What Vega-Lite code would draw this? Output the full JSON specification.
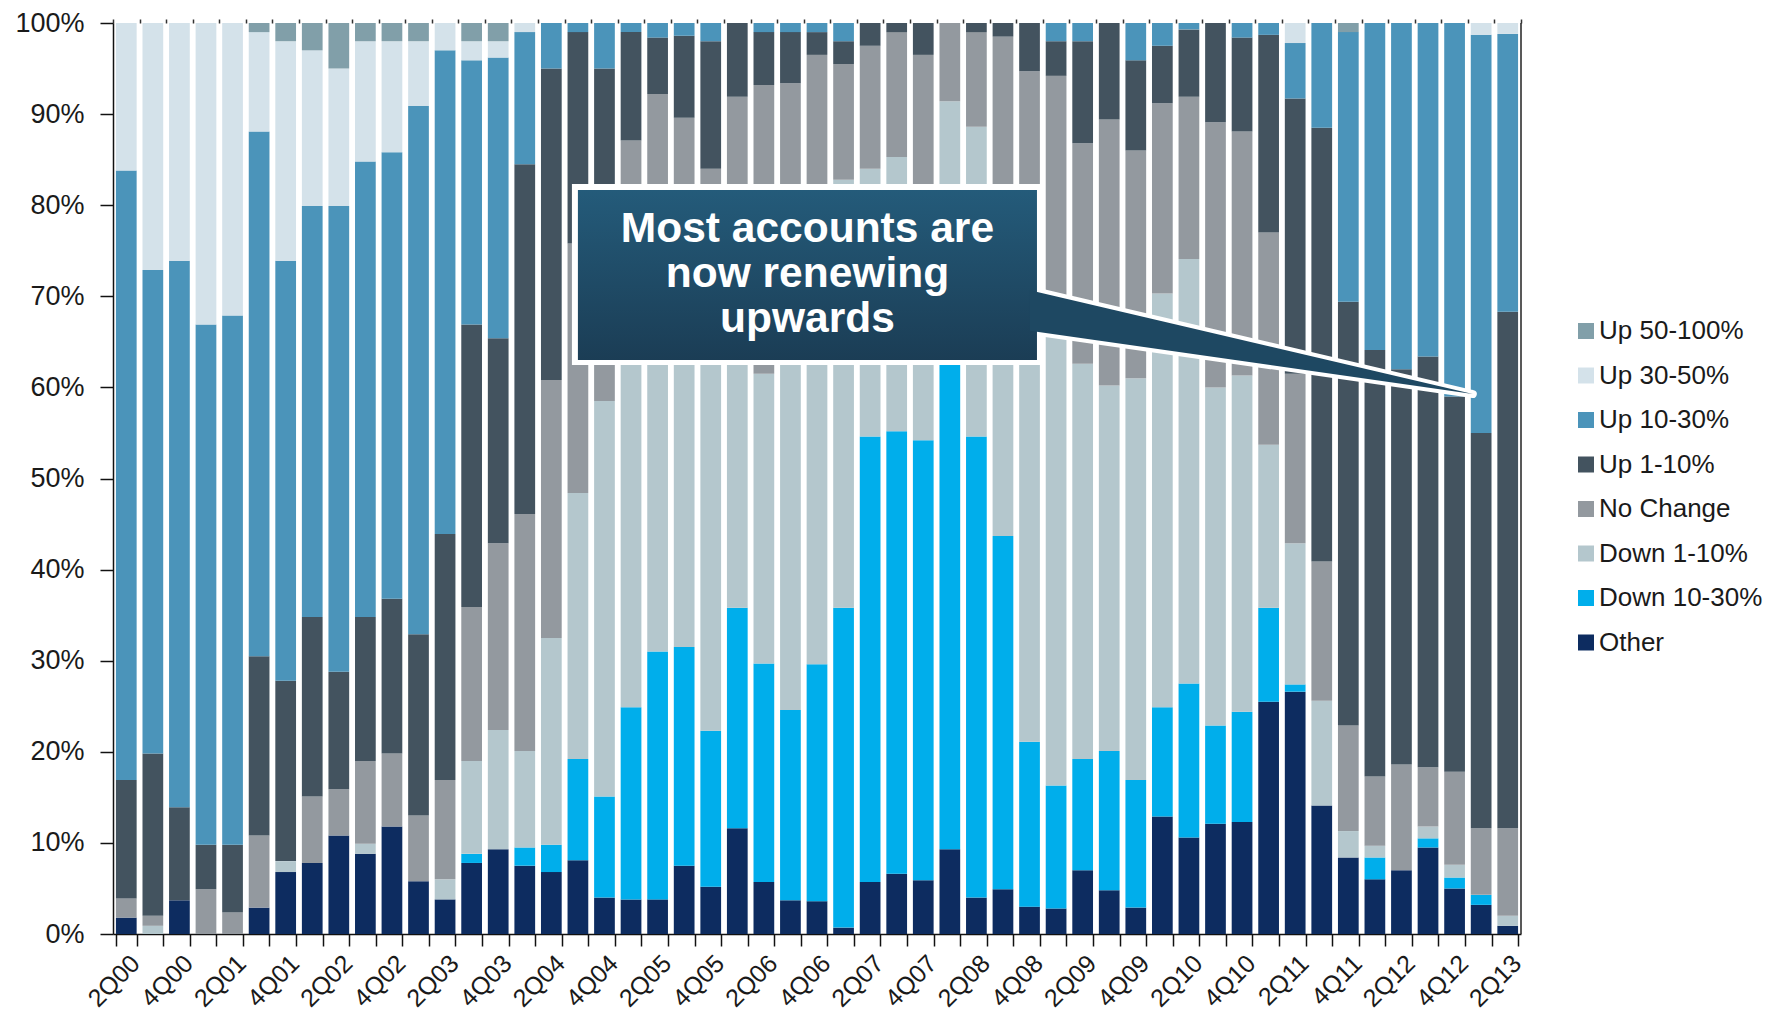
{
  "$schema": "https://vega.github.io/schema/vega-lite/v6.json",
  "width": 1408,
  "height": 911,
  "autosize": {"type": "none"},
  "padding": {"left": 113, "top": 23, "right": 252, "bottom": 86},
  "background": "white",
  "config": {"view": {"stroke": null}, "font": "Liberation Sans"},
  "resolve": {"scale": {"x": "independent"}},
  "layer": [
    {
      "data": {"values": [
        {"q":"2Q00","Other":1.8,"Down 10-30%":0,"Down 1-10%":0,"No Change":2.1,"Up 1-10%":13.0,"Up 10-30%":66.9,"Up 30-50%":16.2,"Up 50-100%":0},
        {"q":"3Q00","Other":0,"Down 10-30%":0,"Down 1-10%":0.9,"No Change":1.1,"Up 1-10%":17.8,"Up 10-30%":53.1,"Up 30-50%":27.1,"Up 50-100%":0},
        {"q":"4Q00","Other":3.7,"Down 10-30%":0,"Down 1-10%":0,"No Change":0,"Up 1-10%":10.2,"Up 10-30%":60.0,"Up 30-50%":26.1,"Up 50-100%":0},
        {"q":"1Q01","Other":0,"Down 10-30%":0,"Down 1-10%":0,"No Change":4.9,"Up 1-10%":4.9,"Up 10-30%":57.1,"Up 30-50%":33.1,"Up 50-100%":0},
        {"q":"2Q01","Other":0,"Down 10-30%":0,"Down 1-10%":0,"No Change":2.4,"Up 1-10%":7.4,"Up 10-30%":58.1,"Up 30-50%":32.1,"Up 50-100%":0},
        {"q":"3Q01","Other":2.9,"Down 10-30%":0,"Down 1-10%":0,"No Change":7.9,"Up 1-10%":19.7,"Up 10-30%":57.6,"Up 30-50%":10.9,"Up 50-100%":1.0},
        {"q":"4Q01","Other":6.8,"Down 10-30%":0,"Down 1-10%":1.2,"No Change":0,"Up 1-10%":19.8,"Up 10-30%":46.1,"Up 30-50%":24.1,"Up 50-100%":2.0},
        {"q":"1Q02","Other":7.8,"Down 10-30%":0,"Down 1-10%":0,"No Change":7.3,"Up 1-10%":19.7,"Up 10-30%":45.1,"Up 30-50%":17.1,"Up 50-100%":3.0},
        {"q":"2Q02","Other":10.8,"Down 10-30%":0,"Down 1-10%":0,"No Change":5.1,"Up 1-10%":12.9,"Up 10-30%":51.1,"Up 30-50%":15.1,"Up 50-100%":5.0},
        {"q":"3Q02","Other":8.8,"Down 10-30%":0,"Down 1-10%":1.1,"No Change":9.1,"Up 1-10%":15.8,"Up 10-30%":50.0,"Up 30-50%":13.2,"Up 50-100%":2.0},
        {"q":"4Q02","Other":11.8,"Down 10-30%":0,"Down 1-10%":0,"No Change":8.0,"Up 1-10%":17.0,"Up 10-30%":49.0,"Up 30-50%":12.2,"Up 50-100%":2.0},
        {"q":"1Q03","Other":5.8,"Down 10-30%":0,"Down 1-10%":0,"No Change":7.2,"Up 1-10%":19.9,"Up 10-30%":58.0,"Up 30-50%":7.1,"Up 50-100%":2.0},
        {"q":"2Q03","Other":3.8,"Down 10-30%":0,"Down 1-10%":2.2,"No Change":10.9,"Up 1-10%":27.0,"Up 10-30%":53.1,"Up 30-50%":3.0,"Up 50-100%":0},
        {"q":"3Q03","Other":7.8,"Down 10-30%":1.0,"Down 1-10%":10.2,"No Change":16.9,"Up 1-10%":31.0,"Up 10-30%":29.0,"Up 30-50%":2.1,"Up 50-100%":2.0},
        {"q":"4Q03","Other":9.3,"Down 10-30%":0,"Down 1-10%":13.1,"No Change":20.5,"Up 1-10%":22.5,"Up 10-30%":30.8,"Up 30-50%":1.8,"Up 50-100%":2.0},
        {"q":"1Q04","Other":7.5,"Down 10-30%":2.0,"Down 1-10%":10.6,"No Change":26.0,"Up 1-10%":38.4,"Up 10-30%":14.5,"Up 30-50%":1.0,"Up 50-100%":0},
        {"q":"2Q04","Other":6.8,"Down 10-30%":3.0,"Down 1-10%":22.7,"No Change":28.3,"Up 1-10%":34.2,"Up 10-30%":5.0,"Up 30-50%":0,"Up 50-100%":0},
        {"q":"3Q04","Other":8.1,"Down 10-30%":11.1,"Down 1-10%":29.2,"No Change":27.4,"Up 1-10%":23.2,"Up 10-30%":1.0,"Up 30-50%":0,"Up 50-100%":0},
        {"q":"4Q04","Other":4.0,"Down 10-30%":11.1,"Down 1-10%":43.4,"No Change":13.5,"Up 1-10%":23.0,"Up 10-30%":5.0,"Up 30-50%":0,"Up 50-100%":0},
        {"q":"1Q05","Other":3.8,"Down 10-30%":21.1,"Down 1-10%":49.1,"No Change":13.1,"Up 1-10%":11.9,"Up 10-30%":1.0,"Up 30-50%":0,"Up 50-100%":0},
        {"q":"2Q05","Other":3.8,"Down 10-30%":27.2,"Down 1-10%":47.0,"No Change":14.2,"Up 1-10%":6.2,"Up 10-30%":1.6,"Up 30-50%":0,"Up 50-100%":0},
        {"q":"3Q05","Other":7.5,"Down 10-30%":24.0,"Down 1-10%":44.5,"No Change":13.6,"Up 1-10%":9.0,"Up 10-30%":1.4,"Up 30-50%":0,"Up 50-100%":0},
        {"q":"4Q05","Other":5.2,"Down 10-30%":17.1,"Down 1-10%":49.7,"No Change":12.0,"Up 1-10%":14.0,"Up 10-30%":2.0,"Up 30-50%":0,"Up 50-100%":0},
        {"q":"1Q06","Other":11.6,"Down 10-30%":24.2,"Down 1-10%":40.2,"No Change":15.9,"Up 1-10%":8.1,"Up 10-30%":0,"Up 30-50%":0,"Up 50-100%":0},
        {"q":"2Q06","Other":5.7,"Down 10-30%":24.0,"Down 1-10%":31.8,"No Change":31.7,"Up 1-10%":5.8,"Up 10-30%":1.0,"Up 30-50%":0,"Up 50-100%":0},
        {"q":"3Q06","Other":3.7,"Down 10-30%":20.9,"Down 1-10%":49.4,"No Change":19.4,"Up 1-10%":5.6,"Up 10-30%":1.0,"Up 30-50%":0,"Up 50-100%":0},
        {"q":"4Q06","Other":3.6,"Down 10-30%":26.0,"Down 1-10%":46.4,"No Change":20.5,"Up 1-10%":2.5,"Up 10-30%":1.0,"Up 30-50%":0,"Up 50-100%":0},
        {"q":"1Q07","Other":0.7,"Down 10-30%":35.1,"Down 1-10%":47.0,"No Change":12.7,"Up 1-10%":2.5,"Up 10-30%":2.0,"Up 30-50%":0,"Up 50-100%":0},
        {"q":"2Q07","Other":5.7,"Down 10-30%":48.9,"Down 1-10%":29.4,"No Change":13.5,"Up 1-10%":2.5,"Up 10-30%":0,"Up 30-50%":0,"Up 50-100%":0},
        {"q":"3Q07","Other":6.6,"Down 10-30%":48.6,"Down 1-10%":30.1,"No Change":13.7,"Up 1-10%":1.0,"Up 10-30%":0,"Up 30-50%":0,"Up 50-100%":0},
        {"q":"4Q07","Other":5.9,"Down 10-30%":48.3,"Down 1-10%":25.8,"No Change":16.5,"Up 1-10%":3.5,"Up 10-30%":0,"Up 30-50%":0,"Up 50-100%":0},
        {"q":"1Q08","Other":9.3,"Down 10-30%":54.7,"Down 1-10%":27.4,"No Change":8.6,"Up 1-10%":0,"Up 10-30%":0,"Up 30-50%":0,"Up 50-100%":0},
        {"q":"2Q08","Other":4.0,"Down 10-30%":50.6,"Down 1-10%":34.0,"No Change":10.4,"Up 1-10%":1.0,"Up 10-30%":0,"Up 30-50%":0,"Up 50-100%":0},
        {"q":"3Q08","Other":4.9,"Down 10-30%":38.8,"Down 1-10%":28.3,"No Change":26.5,"Up 1-10%":1.5,"Up 10-30%":0,"Up 30-50%":0,"Up 50-100%":0},
        {"q":"4Q08","Other":3.0,"Down 10-30%":18.1,"Down 1-10%":44.9,"No Change":28.7,"Up 1-10%":5.3,"Up 10-30%":0,"Up 30-50%":0,"Up 50-100%":0},
        {"q":"1Q09","Other":2.8,"Down 10-30%":13.5,"Down 1-10%":49.3,"No Change":28.6,"Up 1-10%":3.8,"Up 10-30%":2.0,"Up 30-50%":0,"Up 50-100%":0},
        {"q":"2Q09","Other":7.0,"Down 10-30%":12.2,"Down 1-10%":43.4,"No Change":24.2,"Up 1-10%":11.2,"Up 10-30%":2.0,"Up 30-50%":0,"Up 50-100%":0},
        {"q":"3Q09","Other":4.8,"Down 10-30%":15.3,"Down 1-10%":40.1,"No Change":29.2,"Up 1-10%":10.6,"Up 10-30%":0,"Up 30-50%":0,"Up 50-100%":0},
        {"q":"4Q09","Other":2.9,"Down 10-30%":14.0,"Down 1-10%":44.1,"No Change":25.0,"Up 1-10%":9.9,"Up 10-30%":4.1,"Up 30-50%":0,"Up 50-100%":0},
        {"q":"1Q10","Other":12.9,"Down 10-30%":12.0,"Down 1-10%":45.4,"No Change":20.9,"Up 1-10%":6.3,"Up 10-30%":2.5,"Up 30-50%":0,"Up 50-100%":0},
        {"q":"2Q10","Other":10.6,"Down 10-30%":16.9,"Down 1-10%":46.6,"No Change":17.8,"Up 1-10%":7.4,"Up 10-30%":0.7,"Up 30-50%":0,"Up 50-100%":0},
        {"q":"3Q10","Other":12.1,"Down 10-30%":10.8,"Down 1-10%":37.1,"No Change":29.1,"Up 1-10%":10.9,"Up 10-30%":0,"Up 30-50%":0,"Up 50-100%":0},
        {"q":"4Q10","Other":12.3,"Down 10-30%":12.1,"Down 1-10%":36.9,"No Change":26.8,"Up 1-10%":10.3,"Up 10-30%":1.6,"Up 30-50%":0,"Up 50-100%":0},
        {"q":"1Q11","Other":25.5,"Down 10-30%":10.3,"Down 1-10%":17.9,"No Change":23.3,"Up 1-10%":21.7,"Up 10-30%":1.3,"Up 30-50%":0,"Up 50-100%":0},
        {"q":"2Q11","Other":26.6,"Down 10-30%":0.8,"Down 1-10%":15.5,"No Change":18.6,"Up 1-10%":30.2,"Up 10-30%":6.1,"Up 30-50%":2.2,"Up 50-100%":0},
        {"q":"3Q11","Other":14.1,"Down 10-30%":0,"Down 1-10%":11.5,"No Change":15.3,"Up 1-10%":47.6,"Up 10-30%":11.5,"Up 30-50%":0,"Up 50-100%":0},
        {"q":"4Q11","Other":8.4,"Down 10-30%":0,"Down 1-10%":2.9,"No Change":11.6,"Up 1-10%":46.5,"Up 10-30%":29.6,"Up 30-50%":0,"Up 50-100%":1.0},
        {"q":"1Q12","Other":6.0,"Down 10-30%":2.4,"Down 1-10%":1.3,"No Change":7.6,"Up 1-10%":46.8,"Up 10-30%":35.9,"Up 30-50%":0,"Up 50-100%":0},
        {"q":"2Q12","Other":7.0,"Down 10-30%":0,"Down 1-10%":0,"No Change":11.6,"Up 1-10%":43.4,"Up 10-30%":38.0,"Up 30-50%":0,"Up 50-100%":0},
        {"q":"3Q12","Other":9.5,"Down 10-30%":1.0,"Down 1-10%":1.3,"No Change":6.5,"Up 1-10%":45.1,"Up 10-30%":36.6,"Up 30-50%":0,"Up 50-100%":0},
        {"q":"4Q12","Other":5.0,"Down 10-30%":1.2,"Down 1-10%":1.4,"No Change":10.2,"Up 1-10%":41.2,"Up 10-30%":41.0,"Up 30-50%":0,"Up 50-100%":0},
        {"q":"1Q13","Other":3.2,"Down 10-30%":1.1,"Down 1-10%":0,"No Change":7.3,"Up 1-10%":43.4,"Up 10-30%":43.7,"Up 30-50%":1.3,"Up 50-100%":0},
        {"q":"2Q13","Other":0.9,"Down 10-30%":0,"Down 1-10%":1.1,"No Change":9.6,"Up 1-10%":56.7,"Up 10-30%":30.5,"Up 30-50%":1.2,"Up 50-100%":0}
      ]},
      "transform": [
        {"fold": ["Other","Down 10-30%","Down 1-10%","No Change","Up 1-10%","Up 10-30%","Up 30-50%","Up 50-100%"], "as": ["category","share"]},
        {"calculate": "indexof(['Other','Down 10-30%','Down 1-10%','No Change','Up 1-10%','Up 10-30%','Up 30-50%','Up 50-100%'], datum.category)", "as": "stackOrder"}
      ],
      "mark": {"type": "bar"},
      "encoding": {
        "x": {
          "field": "q", "type": "nominal", "sort": null,
          "scale": {"paddingInner": 0.22, "paddingOuter": 0.11},
          "axis": {
            "title": null, "orient": "bottom",
            "labelAngle": -45, "labelAlign": "right", "labelBaseline": "middle",
            "labelFontSize": 25, "labelColor": "#1a1a1a", "labelPadding": 13, "labelOffset": 9,
            "labelOverlap": false,
            "labelExpr": "(substring(datum.value,0,1) == '2' || substring(datum.value,0,1) == '4') ? datum.value : ''",
            "tickBand": "extent", "tickSize": 12, "tickColor": "#111111", "tickWidth": 1.5,
            "domainColor": "#111111", "domainWidth": 1.5, "grid": false
          }
        },
        "y": {
          "field": "share", "type": "quantitative", "stack": "normalize",
          "scale": {"domain": [0, 1]},
          "axis": {
            "title": null, "values": [0,0.1,0.2,0.3,0.4,0.5,0.6,0.7,0.8,0.9,1], "format": ".0%",
            "labelFontSize": 27, "labelColor": "#1a1a1a", "labelPadding": 16,
            "tickSize": 13, "tickColor": "#111111", "tickWidth": 1.5,
            "domainColor": "#111111", "domainWidth": 1.5, "grid": false
          }
        },
        "color": {
          "field": "category", "type": "nominal",
          "scale": {
            "domain": ["Up 50-100%","Up 30-50%","Up 10-30%","Up 1-10%","No Change","Down 1-10%","Down 10-30%","Other"],
            "range": ["#819fa9","#d4e2ea","#4b94ba","#43535f","#93999f","#b4c7cd","#00aeeb","#0d2c60"]
          },
          "legend": {
            "title": null, "orient": "none", "legendX": 1460, "legendY": 295,
            "symbolType": "square", "symbolSize": 256, "symbolStrokeWidth": 0,
            "labelFontSize": 26, "labelColor": "#1a1a1a", "labelOffset": 0,
            "rowPadding": 18.5, "padding": 0, "labelLimit": 300
          }
        },
        "order": {"field": "stackOrder", "type": "quantitative"}
      }
    },
    {
      "data": {"values": [{}]},
      "mark": {"type": "rule", "color": "#222222", "strokeWidth": 1.5},
      "encoding": {
        "x": {"datum": 53, "type": "quantitative", "scale": {"domain": [0, 53], "nice": false, "zero": false},
          "axis": {"orient": "top", "title": null, "labels": false, "domain": false, "grid": false,
            "tickSize": 4, "tickColor": "#333333", "tickWidth": 1.5,
            "values": [0,1,2,3,4,5,6,7,8,9,10,11,12,13,14,15,16,17,18,19,20,21,22,23,24,25,26,27,28,29,30,31,32,33,34,35,36,37,38,39,40,41,42,43,44,45,46,47,48,49,50,51,52,53]}},
        "y": {"datum": 0, "type": "quantitative"},
        "y2": {"datum": 1}
      }
    },
    {
      "data": {"values": [{}]},
      "mark": {"type": "rect", "fill": "white"},
      "encoding": {
        "x": {"datum": 17.275, "type": "quantitative", "scale": {"domain": [0, 53], "nice": false, "zero": false}, "axis": null},
        "x2": {"datum": 34.965},
        "y": {"datum": 0.8233, "type": "quantitative"},
        "y2": {"datum": 0.6246}
      }
    },
    {
      "data": {"values": [{}]},
      "mark": {"type": "point", "shape": "M -1 -0.2353 L 1 0.2339 L -1 -0.0518 Z", "size": 190096, "filled": true, "fill": "#1e4862", "stroke": "white", "strokeWidth": 8, "opacity": 1, "strokeJoin": "round"},
      "encoding": {
        "x": {"datum": 42.98, "type": "quantitative", "scale": {"domain": [0, 53], "nice": false, "zero": false}, "axis": null},
        "y": {"datum": 0.6487, "type": "quantitative"}
      }
    },
    {
      "data": {"values": [{}]},
      "mark": {"type": "rect", "fill": {"gradient": "linear", "x1": 0, "y1": 0, "x2": 0, "y2": 1, "stops": [{"offset": 0, "color": "#245b7a"}, {"offset": 1, "color": "#1b3d55"}]}},
      "encoding": {
        "x": {"datum": 17.50, "type": "quantitative", "scale": {"domain": [0, 53], "nice": false, "zero": false}, "axis": null},
        "x2": {"datum": 34.78},
        "y": {"datum": 0.8167, "type": "quantitative"},
        "y2": {"datum": 0.6301}
      }
    },
    {
      "data": {"values": [{}]},
      "mark": {"type": "point", "shape": "M -1.032 -0.2427 L 1 0.2339 L -1.032 -0.0564 Z", "size": 190096, "filled": true, "fill": "#1e4862", "strokeWidth": 0, "opacity": 1},
      "encoding": {
        "x": {"datum": 42.98, "type": "quantitative", "scale": {"domain": [0, 53], "nice": false, "zero": false}, "axis": null},
        "y": {"datum": 0.6487, "type": "quantitative"}
      }
    },
    {
      "data": {"values": [{}]},
      "mark": {"type": "text", "text": ["Most accounts are", "now renewing", "upwards"], "font": "Liberation Sans", "fontWeight": "bold", "fontSize": 42.5, "lineHeight": 45, "color": "white", "align": "center", "baseline": "alphabetic"},
      "encoding": {
        "x": {"datum": 26.14, "type": "quantitative", "scale": {"domain": [0, 53], "nice": false, "zero": false}, "axis": null},
        "y": {"datum": 0.76, "type": "quantitative"}
      }
    }
  ]
}
